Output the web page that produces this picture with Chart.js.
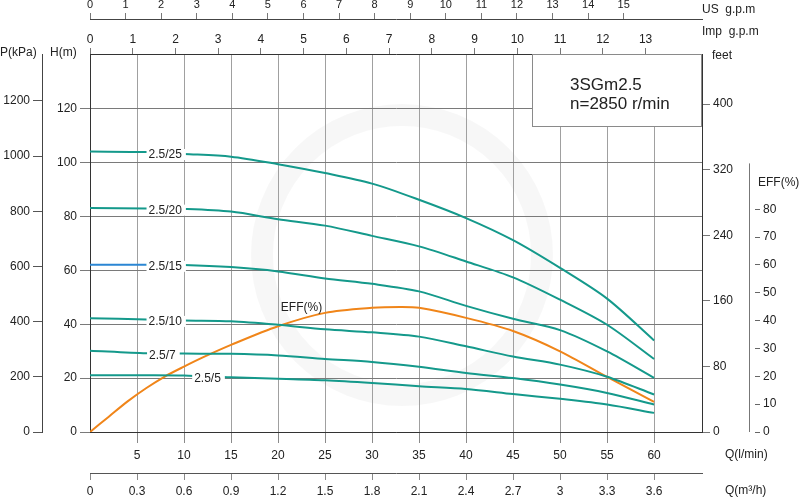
<!DOCTYPE html>
<html><head><meta charset="utf-8">
<script src="https://cdn.jsdelivr.net/npm/chart.js@4.4.0/dist/chart.umd.min.js"></script>
<style>html,body{margin:0;padding:0;background:#fff;}canvas{display:block;}</style>
</head><body>
<canvas id="c" width="800" height="497"></canvas>
<script>
// ---------- data ----------
const flowLmin = [0, 6, 10, 15, 20, 25, 30, 35, 40, 45, 50, 55, 60];
const head_2_5_25 = [104.1, 103.9, 103.2, 102.2, 99.4, 96.1, 92.2, 86.2, 79.4, 71.2, 60.9, 49.5, 34.0];
const head_2_5_20 = [83.1, 83.0, 82.8, 81.8, 79.0, 76.6, 72.8, 68.9, 63.3, 57.4, 49.1, 39.8, 27.1];
const head_2_5_15 = [62.1, 62.1, 62.0, 61.2, 59.6, 57.0, 55.0, 52.2, 46.8, 42.0, 37.8, 29.9, 20.1];
const head_2_5_10 = [42.2, 41.8, 41.4, 41.1, 39.8, 38.1, 37.0, 35.4, 31.8, 28.0, 25.0, 20.5, 13.9];
const head_2_5_7  = [30.2, 29.2, 29.1, 29.0, 28.4, 27.1, 26.0, 24.2, 21.9, 20.0, 17.6, 14.5, 10.2];
const head_2_5_5  = [21.1, 21.1, 21.0, 20.3, 19.8, 19.2, 18.2, 17.0, 16.0, 14.1, 12.3, 10.2, 7.1];
const curveNames = ['2.5/25', '2.5/20', '2.5/15', '2.5/10', '2.5/7', '2.5/5'];
const curveHeads = [head_2_5_25, head_2_5_20, head_2_5_15, head_2_5_10, head_2_5_7, head_2_5_5];
const curveLabelFlow = [8.0, 8.0, 8.0, 8.0, 7.7, 12.5];

const effFlow   = [0, 2, 4, 6, 8, 10, 12, 15, 20, 25, 30, 33, 35, 40, 45, 50, 55, 60];
const effValues = [0, 5.5, 11, 15.8, 20, 23.5, 26.8, 31.3, 38, 42.8, 44.6, 44.9, 44.6, 41, 36.3, 29, 19.8, 10.8];
const effLabel = 'EFF(%)';
const effLabelFlow = 22.5;

const tickLmin = [5, 10, 15, 20, 25, 30, 35, 40, 45, 50, 55, 60];
const tickM3h  = [0, 0.3, 0.6, 0.9, 1.2, 1.5, 1.8, 2.1, 2.4, 2.7, 3, 3.3, 3.6];
const tickUS   = [0, 1, 2, 3, 4, 5, 6, 7, 8, 9, 10, 11, 12, 13, 14, 15];
const tickImp  = [0, 1, 2, 3, 4, 5, 6, 7, 8, 9, 10, 11, 12, 13];
const tickH    = [0, 20, 40, 60, 80, 100, 120];
const tickP    = [0, 200, 400, 600, 800, 1000, 1200];
const tickFeet = [0, 80, 160, 240, 320, 400];
const tickEff  = [0, 10, 20, 30, 40, 50, 60, 70, 80];

const modelName = '3SGm2.5';
const speedText = 'n=2850 r/min';

// axis ranges
const Q_MAX = 65.1;      // l/min
const H_MAX = 140.3;     // m
const P_MAX = 1370;      // kPa
const FT_MAX = 461;      // feet
const EFF_MAX = 135.8;   // %
const EFF_AXIS_TOP = 96.5;

// ---------- styling ----------
const FONT = "'Liberation Sans', Arial, Helvetica, sans-serif";
const TEAL = '#14998b';
const ORANGE = '#f08519';
const TXT = '#222';
const fmt = v => String(Math.round(v * 1000) / 1000);
const fixedTicks = arr => scale => { scale.ticks = arr.map(v => ({ value: v })); };
const tickFont = (s) => ({ family: FONT, size: s });

function interp(xs, ys, x) {
  for (let i = 0; i < xs.length - 1; i++) {
    if (x >= xs[i] && x <= xs[i + 1]) {
      const t = (x - xs[i]) / (xs[i + 1] - xs[i]);
      return ys[i] + t * (ys[i + 1] - ys[i]);
    }
  }
  return ys[ys.length - 1];
}

const datasets = curveNames.map((name, i) => ({
  label: name,
  data: flowLmin.map((q, j) => ({ x: q, y: curveHeads[i][j] })),
  borderColor: TEAL,
  borderWidth: 2,
  pointRadius: 0,
  fill: false,
  tension: 0.3,
  xAxisID: 'x', yAxisID: 'y',
  segment: name === '2.5/15' ? { borderColor: c => c.p0DataIndex === 0 ? '#2b86d4' : undefined } : undefined
}));
datasets.push({
  label: effLabel,
  data: effFlow.map((q, j) => ({ x: q, y: effValues[j] })),
  borderColor: ORANGE,
  borderWidth: 2,
  pointRadius: 0,
  fill: false,
  tension: 0.3,
  xAxisID: 'x', yAxisID: 'yEff'
});

const decor = {
  id: 'decor',
  beforeDraw(chart) {
    const ctx = chart.ctx;
    ctx.save();
    ctx.strokeStyle = 'rgba(0,0,0,0.03)';
    ctx.lineWidth = 22;
    ctx.beginPath();
    ctx.arc(402, 255, 140, 0, Math.PI * 2);
    ctx.stroke();
    ctx.restore();
  },
  afterDatasetsDraw(chart) {
    const ctx = chart.ctx;
    const xs = chart.scales.x, ys = chart.scales.y, ye = chart.scales.yEff;
    const ca = chart.chartArea;
    ctx.save();
    ctx.font = `12px ${FONT}`;
    ctx.textBaseline = 'middle';
    ctx.textAlign = 'center';
    curveNames.forEach((name, i) => {
      const q = curveLabelFlow[i];
      const px = xs.getPixelForValue(q);
      const py = ys.getPixelForValue(interp(flowLmin, curveHeads[i], q)) + 2;
      const w = ctx.measureText(name).width;
      ctx.fillStyle = '#fff';
      ctx.fillRect(px - w / 2 - 2, py - 6, w + 6, 11);
      ctx.fillStyle = TXT;
      ctx.fillText(name, px, py);
    });
    // EFF label
    {
      const px = xs.getPixelForValue(effLabelFlow);
      const py = ye.getPixelForValue(interp(effFlow, effValues, effLabelFlow)) - 12;
      ctx.fillStyle = TXT;
      ctx.fillText(effLabel, px, py);
    }
    // model box
    const bx = ca.right - 170, by = ca.top, bw = 170, bh = 73;
    ctx.fillStyle = '#fff';
    ctx.fillRect(bx, by, bw, bh);
    ctx.strokeStyle = '#8a8a8a';
    ctx.lineWidth = 1;
    ctx.strokeRect(bx + 0.5, by + 0.5, bw - 1, bh - 1);
    ctx.fillStyle = TXT;
    ctx.font = `17px ${FONT}`;
    ctx.textAlign = 'left';
    ctx.fillText(modelName, bx + 38, by + 31);
    ctx.fillText(speedText, bx + 38, by + 50);
    ctx.restore();
  },
  afterDraw(chart) {
    const ctx = chart.ctx;
    const s = chart.scales;
    const ca = chart.chartArea;
    ctx.save();
    // EFF axis line
    const ye = s.yEff;
    const lx = Math.round(ye.left - 6) + 0.5;
    ctx.strokeStyle = '#777';
    ctx.lineWidth = 1;
    ctx.beginPath();
    ctx.moveTo(lx, ye.getPixelForValue(0));
    ctx.lineTo(lx, ye.getPixelForValue(EFF_AXIS_TOP));
    ctx.stroke();
    // axis titles
    ctx.fillStyle = TXT;
    ctx.font = `12px ${FONT}`;
    ctx.textBaseline = 'middle';
    ctx.textAlign = 'left';
    ctx.fillText('US  g.p.m', s.xUS.right, s.xUS.bottom - 9);
    ctx.fillText('Imp  g.p.m', s.xImp.right, s.xImp.bottom - 22);
    ctx.fillText('feet', s.yFt.left + 10, ca.top + 2);
    ctx.fillText('EFF(%)', ye.left + 3, ye.getPixelForValue(89.5));
    ctx.fillText('Q(l/min)', ca.right + 23, s.x.top + 23);
    ctx.fillText('Q(m³/h)', ca.right + 23, s.xM3.top + 18);
    ctx.fillText('P(kPa)', 0, ca.top - 1);
    ctx.fillText('H(m)', s.y.left + 8, ca.top - 1);
    ctx.restore();
  }
};

new Chart(document.getElementById('c'), {
  type: 'line',
  data: { datasets },
  plugins: [decor],
  options: {
    responsive: false,
    animation: false,
    devicePixelRatio: 1,
    layout: { padding: 0 },
    plugins: { legend: { display: false }, tooltip: { enabled: false } },
    scales: {
      x: {
        type: 'linear', axis: 'x', position: 'bottom', weight: 0, min: 0, max: Q_MAX,
        afterBuildTicks: fixedTicks(tickLmin), afterFit: sc => { sc.height = 41; },
        grid: { color: '#a0a0a0', tickColor: '#8a8a8a', tickLength: 11, lineWidth: 1 },
        border: { display: true, color: '#333', width: 1 },
        ticks: { padding: 5, font: tickFont(12), color: TXT, maxRotation: 0, autoSkip: false, callback: fmt }
      },
      xM3: {
        type: 'linear', axis: 'x', position: 'bottom', weight: 1, min: 0, max: Q_MAX * 0.06,
        afterBuildTicks: fixedTicks(tickM3h), afterFit: sc => { sc.height = 24; },
        grid: { drawOnChartArea: false, tickColor: '#8a8a8a', tickLength: 7 },
        border: { display: true, color: '#555', width: 1 },
        ticks: { padding: 4, font: tickFont(12), color: TXT, maxRotation: 0, autoSkip: false, callback: fmt }
      },
      xImp: {
        type: 'linear', axis: 'x', position: 'top', weight: 0, min: 0, max: Q_MAX / 4.546,
        afterBuildTicks: fixedTicks(tickImp), afterFit: sc => { sc.height = 35; },
        grid: { drawOnChartArea: false, tickColor: '#777', tickLength: 6 },
        border: { display: true, color: '#333', width: 1 },
        ticks: { padding: 1, font: tickFont(12), color: TXT, maxRotation: 0, autoSkip: false, callback: fmt }
      },
      xUS: {
        type: 'linear', axis: 'x', position: 'top', weight: 1, min: 0, max: Q_MAX / 3.785,
        afterBuildTicks: fixedTicks(tickUS), afterFit: sc => { sc.height = 19; },
        grid: { drawOnChartArea: false, tickColor: '#777', tickLength: 6 },
        border: { display: true, color: '#444', width: 1 },
        ticks: { padding: 1, font: tickFont(11), color: TXT, maxRotation: 0, autoSkip: false, callback: fmt }
      },
      y: {
        type: 'linear', axis: 'y', position: 'left', weight: 0, min: 0, max: H_MAX,
        afterBuildTicks: fixedTicks(tickH), afterFit: sc => { sc.width = 48; },
        grid: { color: '#7a7a7a', tickColor: '#7a7a7a', tickLength: 10, lineWidth: 1 },
        border: { display: true, color: '#333', width: 1 },
        ticks: { padding: 3, font: tickFont(12), color: TXT, autoSkip: false, callback: fmt }
      },
      yP: {
        type: 'linear', axis: 'y', position: 'left', weight: 1, min: 0, max: P_MAX,
        afterBuildTicks: fixedTicks(tickP), afterFit: sc => { sc.width = 42; },
        grid: { drawOnChartArea: false, tickColor: '#555', tickLength: 9 },
        border: { display: true, color: '#444', width: 1 },
        ticks: { padding: 3, font: tickFont(12), color: TXT, autoSkip: false, callback: fmt }
      },
      yFt: {
        type: 'linear', axis: 'y', position: 'right', weight: 0, min: 0, max: FT_MAX,
        afterBuildTicks: fixedTicks(tickFeet), afterFit: sc => { sc.width = 53; },
        grid: { drawOnChartArea: false, tickColor: '#777', tickLength: 8 },
        border: { display: true, color: '#333', width: 1 },
        ticks: { padding: 3, font: tickFont(12), color: TXT, autoSkip: false, callback: fmt }
      },
      yEff: {
        type: 'linear', axis: 'y', position: 'right', weight: 1, min: 0, max: EFF_MAX,
        afterBuildTicks: fixedTicks(tickEff), afterFit: sc => { sc.width = 45; },
        grid: { drawOnChartArea: false, tickColor: '#666', tickLength: 5 },
        border: { display: false },
        ticks: { padding: 3, font: tickFont(12), color: TXT, autoSkip: false, callback: fmt }
      }
    }
  }
});
</script>
</body></html>
